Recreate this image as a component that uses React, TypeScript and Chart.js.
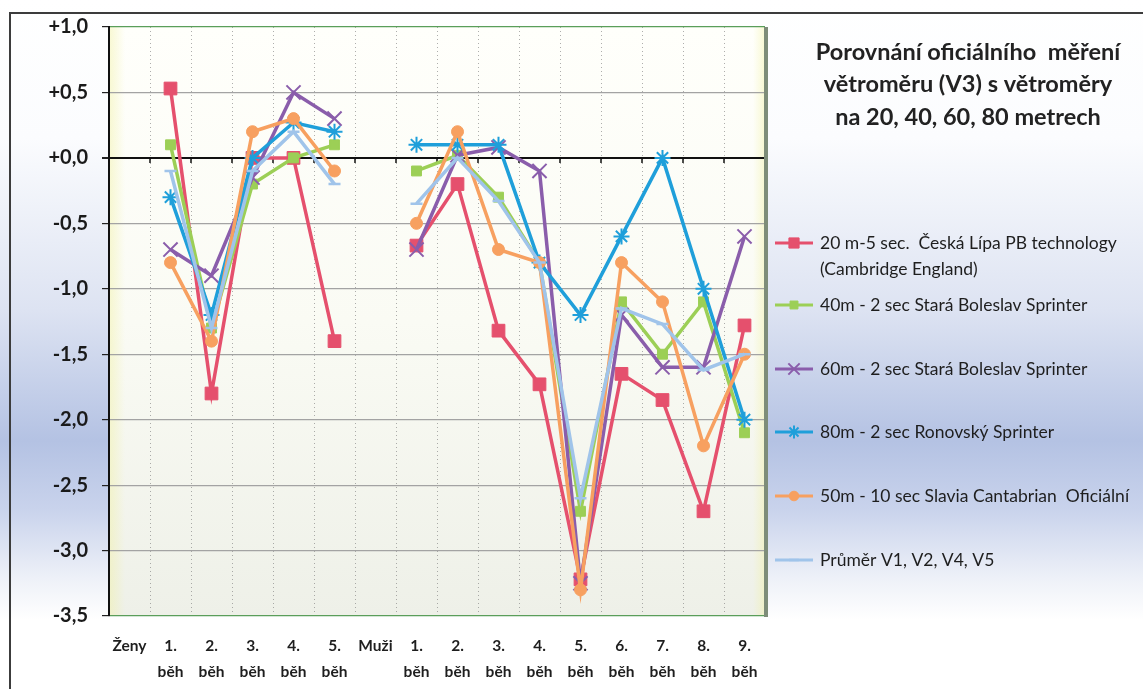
import React, { useEffect, useRef } from 'react';
import { Chart, registerables } from 'chart.js';
import { drawPoint } from 'chart.js/helpers';

Chart.register(...registerables);

// Categories along the x axis (women's heats, then men's heats)
const categories: (string | string[])[] = [
  'Ženy', ['1.', 'běh'], ['2.', 'běh'], ['3.', 'běh'], ['4.', 'běh'], ['5.', 'běh'],
  'Muži', ['1.', 'běh'], ['2.', 'běh'], ['3.', 'běh'], ['4.', 'běh'], ['5.', 'běh'],
  ['6.', 'běh'], ['7.', 'běh'], ['8.', 'běh'], ['9.', 'běh'],
];

// Wind differences in m/s for each anemometer
const v20m = [null, 0.53, -1.8, 0.0, 0.0, -1.4, null, -0.67, -0.2, -1.32, -1.73, -3.22, -1.65, -1.85, -2.7, -1.28];
const v40m = [null, 0.1, -1.3, -0.2, 0.0, 0.1, null, -0.1, 0.02, -0.3, -0.8, -2.7, -1.1, -1.5, -1.1, -2.1];
const v60m = [null, -0.7, -0.9, -0.15, 0.5, 0.3, null, -0.7, 0.02, 0.08, -0.1, -3.25, -1.2, -1.6, -1.6, -0.6];
const v80m = [null, -0.3, -1.2, 0.0, 0.27, 0.2, null, 0.1, 0.1, 0.1, -0.8, -1.2, -0.6, 0.0, -1.0, -2.0];
const v50m = [null, -0.8, -1.4, 0.2, 0.3, -0.1, null, -0.5, 0.2, -0.7, -0.8, -3.3, -0.8, -1.1, -2.2, -1.5];
const vAvg = [null, -0.1, -1.3, -0.1, 0.2, -0.2, null, -0.35, 0.0, -0.33, -0.8, -2.6, -1.15, -1.27, -1.62, -1.5];

const seriesLabels: (string | string[])[] = [
  ['20 m-5 sec.  Česká Lípa PB technology', '(Cambridge England)'],
  '40m - 2 sec Stará Boleslav Sprinter',
  '60m - 2 sec Stará Boleslav Sprinter',
  '80m - 2 sec Ronovský Sprinter',
  '50m - 10 sec Slavia Cantabrian  Oficiální',
  'Průměr V1, V2, V4, V5',
];

const titleLines = [
  'Porovnání oficiálního  měření',
  'větroměru (V3) s větroměry',
  'na 20, 40, 60, 80 metrech',
];

const yMin = -3.5;
const yMax = 1.0;
const yStep = 0.5;

const FONT = 'Lato, "Open Sans", sans-serif';

const styles = [
  { color: '#e5506d', pointStyle: 'rect', radius: 9, pbw: 1 },
  { color: '#9ccf56', pointStyle: 'rect', radius: 7, pbw: 1 },
  { color: '#8a5dab', pointStyle: 'crossRot', radius: 10, pbw: 2 },
  { color: '#1f9fda', pointStyle: 'star', radius: 8, pbw: 2 },
  { color: '#f7a060', pointStyle: 'circle', radius: 6, pbw: 1 },
  { color: '#a0c4ea', pointStyle: 'line', radius: 6, pbw: 2.5 },
];

const formatTick = (v: number) => {
  const s = Math.abs(v).toFixed(1).replace('.', ',');
  return v >= 0 ? '+' + s : '-' + s;
};

// Plot background, frame, zero-axis tick marks, title and legend
const decor = {
  id: 'decor',
  beforeDraw(chart: any) {
    const { ctx, chartArea: a, width, height } = chart;
    ctx.save();
    // outer frame
    ctx.strokeStyle = '#3c3c3c';
    ctx.lineWidth = 2;
    ctx.beginPath();
    ctx.moveTo(10, height);
    ctx.lineTo(10, 13);
    ctx.lineTo(width, 13);
    ctx.stroke();

    // plot fill
    const g = ctx.createLinearGradient(0, a.top, 0, a.bottom);
    g.addColorStop(0, '#fffffb');
    g.addColorStop(0.5, '#fafbf4');
    g.addColorStop(1, '#eef0e8');
    ctx.fillStyle = g;
    ctx.fillRect(a.left, a.top, a.width, a.height);
    const gl = ctx.createLinearGradient(a.left, 0, a.left + 16, 0);
    gl.addColorStop(0, 'rgba(240,240,160,0.45)');
    gl.addColorStop(1, 'rgba(240,240,160,0)');
    ctx.fillStyle = gl;
    ctx.fillRect(a.left, a.top, 16, a.height);
    const gr = ctx.createLinearGradient(a.right - 12, 0, a.right, 0);
    gr.addColorStop(0, 'rgba(240,240,160,0)');
    gr.addColorStop(1, 'rgba(240,240,160,0.45)');
    ctx.fillStyle = gr;
    ctx.fillRect(a.right - 12, a.top, 12, a.height);
    ctx.restore();
  },
  beforeDatasetsDraw(chart: any) {
    const { ctx, chartArea: a, scales } = chart;
    const xs = scales.x;
    const y0 = scales.y.getPixelForValue(0);
    const step = xs.getPixelForValue(1) - xs.getPixelForValue(0);
    ctx.save();
    ctx.strokeStyle = '#111';
    ctx.lineWidth = 1.5;
    for (let i = 0; i <= categories.length; i++) {
      const x = xs.getPixelForValue(0) - step / 2 + i * step;
      ctx.beginPath();
      ctx.moveTo(x, y0 - 1);
      ctx.lineTo(x, y0 + 5);
      ctx.stroke();
    }
    // right edge shade
    ctx.fillStyle = '#7e8d79';
    ctx.fillRect(a.right - 1, a.top, 4, a.height + 1);
    ctx.restore();
  },
  afterDraw(chart: any) {
    const { ctx } = chart;
    ctx.save();
    // title
    ctx.fillStyle = '#222';
    ctx.font = `bold 23.5px ${FONT}`;
    ctx.textAlign = 'center';
    ctx.textBaseline = 'middle';
    titleLines.forEach((t, i) => ctx.fillText(t, 968, 52 + i * 32.5));

    // legend
    const rows = [243, 305, 369, 432, 496, 560];
    chart.data.datasets.forEach((ds: any, i: number) => {
      const y = rows[i];
      ctx.strokeStyle = ds.borderColor;
      ctx.fillStyle = ds.backgroundColor;
      ctx.lineWidth = 3;
      ctx.beginPath();
      ctx.moveTo(775, y);
      ctx.lineTo(813, y);
      ctx.stroke();
      ctx.lineWidth = ds.pointBorderWidth;
      drawPoint(ctx, {
        pointStyle: ds.pointStyle,
        rotation: 0,
        radius: ds.pointRadius * 0.8,
        borderWidth: ds.pointBorderWidth,
      } as any, 794, y);
      ctx.fillStyle = '#1e1e1e';
      ctx.font = `17.5px ${FONT}`;
      ctx.textAlign = 'left';
      ctx.textBaseline = 'middle';
      const lines = Array.isArray(ds.label) ? ds.label : [ds.label];
      lines.forEach((l: string, k: number) => ctx.fillText(l, 820, y + k * 26));
    });
    ctx.restore();
  },
};

export default function App() {
  const ref = useRef<HTMLCanvasElement>(null);

  useEffect(() => {
    document.body.style.margin = '0';
    document.body.style.overflow = 'hidden';
    const values = [v20m, v40m, v60m, v80m, v50m, vAvg];
    const chart = new Chart(ref.current as HTMLCanvasElement, {
      type: 'line',
      data: {
        labels: categories as any,
        datasets: values.map((d, i) => ({
          label: seriesLabels[i] as any,
          data: d,
          borderColor: styles[i].color,
          backgroundColor: styles[i].color,
          pointBackgroundColor: styles[i].color,
          pointBorderColor: styles[i].color,
          pointStyle: styles[i].pointStyle as any,
          pointRadius: styles[i].radius,
          pointBorderWidth: styles[i].pbw,
          borderWidth: 3.5,
          tension: 0,
          spanGaps: false,
          order: values.length - i,
        })),
      },
      options: {
        responsive: false,
        animation: false,
        layout: { padding: { left: 0, right: 378, top: 27, bottom: 0 } },
        plugins: { legend: { display: false }, tooltip: { enabled: false } },
        scales: {
          x: {
            type: 'category',
            offset: true,
            grid: {
              display: true,
              offset: true,
              drawTicks: false,
              color: 'rgba(120,120,120,0.6)',
              lineWidth: 1,
            },
            border: { display: false, dash: [1, 3] },
            ticks: {
              autoSkip: false,
              maxRotation: 0,
              padding: 17,
              color: '#1e1e1e',
              font: { family: FONT, size: 15.5, weight: 'bold', lineHeight: 26 / 15.5 },
            },
            afterFit(scale: any) {
              scale.height = 73;
            },
          },
          y: {
            min: yMin,
            max: yMax,
            ticks: {
              stepSize: yStep,
              padding: 14,
              color: '#1a1a1a',
              font: { family: FONT, size: 20, weight: 'bold' },
              callback: (v: any) => formatTick(Number(v)),
            },
            grid: {
              color: (c: any) => {
                const v = c.tick ? c.tick.value : 0;
                if (Math.abs(v) < 1e-9) return '#111';
                if (Math.abs(v - yMax) < 1e-9 || Math.abs(v - yMin) < 1e-9) return '#5a9e5a';
                return '#a3a3a3';
              },
              lineWidth: (c: any) => (c.tick && Math.abs(c.tick.value) < 1e-9 ? 2 : 1.2),
              tickColor: '#222',
              tickLength: 7,
            },
            border: { display: true, color: '#111', width: 2 },
            afterFit(scale: any) {
              scale.width = 109;
            },
          },
        },
      },
      plugins: [decor],
    });
    return () => chart.destroy();
  }, []);

  return (
    <div
      style={{
        position: 'relative',
        width: 1143,
        height: 689,
        background:
          'linear-gradient(to bottom, #ffffff 0%, #fbfcfe 20%, #dde3f2 45%, #b4c2e3 64%, #c9d3ec 74%, #eef1f8 84%, #ffffff 90%, #ffffff 100%)',
      }}
    >
      <canvas ref={ref} width={1143} height={689} style={{ display: 'block' }} />
    </div>
  );
}
